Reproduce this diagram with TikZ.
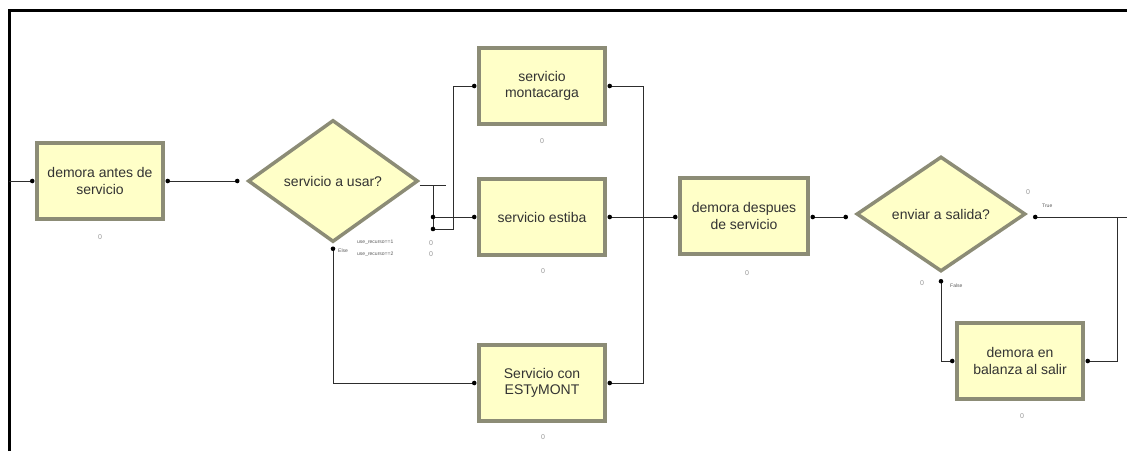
\documentclass[tikz,border=0pt]{standalone}
\usepackage{fontspec}
\setmainfont{Liberation Sans}
\usetikzlibrary{shapes.geometric,calc}
\definecolor{modfill}{RGB}{255,255,200}
\definecolor{modedge}{RGB}{140,140,118}
\definecolor{wirec}{RGB}{45,45,45}
\definecolor{cntc}{RGB}{150,150,150}
\begin{document}
\begin{tikzpicture}[x=1pt,y=-1pt,
  module/.style={rectangle, fill=modfill, draw=modedge, line width=3.5pt,
    minimum width=126pt, minimum height=76pt, align=center, inner sep=0pt,
    font=\fontsize{14}{16.5}\selectfont, text=black!80},
  decide/.style={diamond, fill=modfill, draw=modedge, line width=3.5pt,
    inner sep=0pt, font=\fontsize{14}{16.5}\selectfont, text=black!80},
  wire/.style={draw=wirec, line width=1pt},
  counter/.style={font=\fontsize{7}{7}\selectfont, text=cntc, inner sep=0pt},
  tag/.style={font=\fontsize{5}{5}\selectfont, text=black!65, inner sep=0pt}]
\useasboundingbox (0,0) rectangle (1127,451);
\fill[white] (0,0) rectangle (1127,451);
% frame
\draw[line width=3pt] (9,451) -- (9,10) -- (1127,10);

% modules
\node[module] (b1) at (100,181) {demora antes de\\servicio};
\node[decide, minimum width=170pt, minimum height=122pt] (d1) at (333,181) {servicio a usar?};
\node[module] (mont) at (542,86) {servicio\\montacarga};
\node[module] (est) at (542,217) {servicio estiba};
\node[module] (esm) at (542,383) {Servicio con\\ESTyMONT};
\node[module, minimum width=128pt] (dds) at (744,216) {demora despues\\de servicio};
\node[decide, minimum width=169pt, minimum height=115pt] (d2) at (941,214) {enviar a salida?};
\node[module] (bal) at (1020,361) {demora en\\balanza al salir};

% ports
\coordinate (lin) at (9,181);
\coordinate (b1in) at ($(b1.west)+(-3,0)$);
\coordinate (b1out) at ($(b1.east)+(3,0)$);
\coordinate (d1in) at ($(d1.west)+(-9,0)$);
\coordinate (d1r) at ($(d1.east)+(0,4)$);
\coordinate (d1top) at (433,185);
\coordinate (d1x1) at (433,217);
\coordinate (d1x2) at (433,229);
\coordinate (d1bend) at (453,229);
\coordinate (d1else) at ($(d1.south)+(0,5)$);
\coordinate (montin) at ($(mont.west)+(-3,0)$);
\coordinate (montout) at ($(mont.east)+(3,0)$);
\coordinate (estin) at ($(est.west)+(-3,0)$);
\coordinate (estout) at ($(est.east)+(3,0)$);
\coordinate (esmin) at ($(esm.west)+(-3,0)$);
\coordinate (esmout) at ($(esm.east)+(3,0)$);
\coordinate (jn) at (643,217);
\coordinate (ddsin) at ($(dds.west)+(-3,1)$);
\coordinate (ddsout) at ($(dds.east)+(3,1)$);
\coordinate (d2in) at ($(d2.west)+(-9,3)$);
\coordinate (d2true) at ($(d2.east)+(8,3)$);
\coordinate (d2false) at ($(d2.south)+(0,8)$);
\coordinate (rout) at (1127,217);
\coordinate (jr) at (1117,217);
\coordinate (balin) at ($(bal.west)+(-3,0)$);
\coordinate (balout) at ($(bal.east)+(3,0)$);

% connectors
\draw[wire] (lin) -- (b1in);
\draw[wire] (b1out) -- (d1in);
\draw[wire] (d1r) -- ++(26,0);
\draw[wire] (d1top) -- (d1x2);
\draw[wire] (d1x1) -- (estin);
\draw[wire] (d1x2) -- (d1bend) |- (montin);
\draw[wire] (d1else) |- (esmin);
\draw[wire] (montout) -| (jn);
\draw[wire] (esmout) -| (jn);
\draw[wire] (estout) -- (ddsin);
\draw[wire] (ddsout) -- (d2in);
\draw[wire] (d2true) -- (rout);
\draw[wire] (d2false) |- (balin);
\draw[wire] (balout) -| (jr);

% port dots
\foreach \p in {b1in,b1out,d1in,d1x1,d1x2,d1else,montin,montout,estin,estout,
  esmin,esmout,ddsin,ddsout,d2in,d2true,d2false,balin,balout}
  \fill[black] (\p) circle (2.3pt);

% counters
\node[counter] (c1) at (100,237) {0};
\node[counter] (c2) at (542,141) {0};
\node[counter] (c3) at (543,271) {0};
\node[counter] (c4) at (543,437) {0};
\node[counter] (c5) at (747,273) {0};
\node[counter] (c6) at (1022,416) {0};
\node[counter] (c7) at (1028,192) {0};
\node[counter] (c8) at (922,283) {0};
\node[counter] (c9) at (431,243) {0};
\node[counter] (c10) at (431,254) {0};

% exit labels
\node[tag, anchor=west] (t1) at (357,242) {use\_recurso==1};
\node[tag, anchor=west] (t2) at (357,254) {use\_recurso==2};
\node[tag, anchor=west] (t3) at (338,251) {Else};
\node[tag, anchor=west] (t4) at (1042,206) {True};
\node[tag, anchor=west] (t5) at (950,286) {False};
\end{tikzpicture}
\end{document}
